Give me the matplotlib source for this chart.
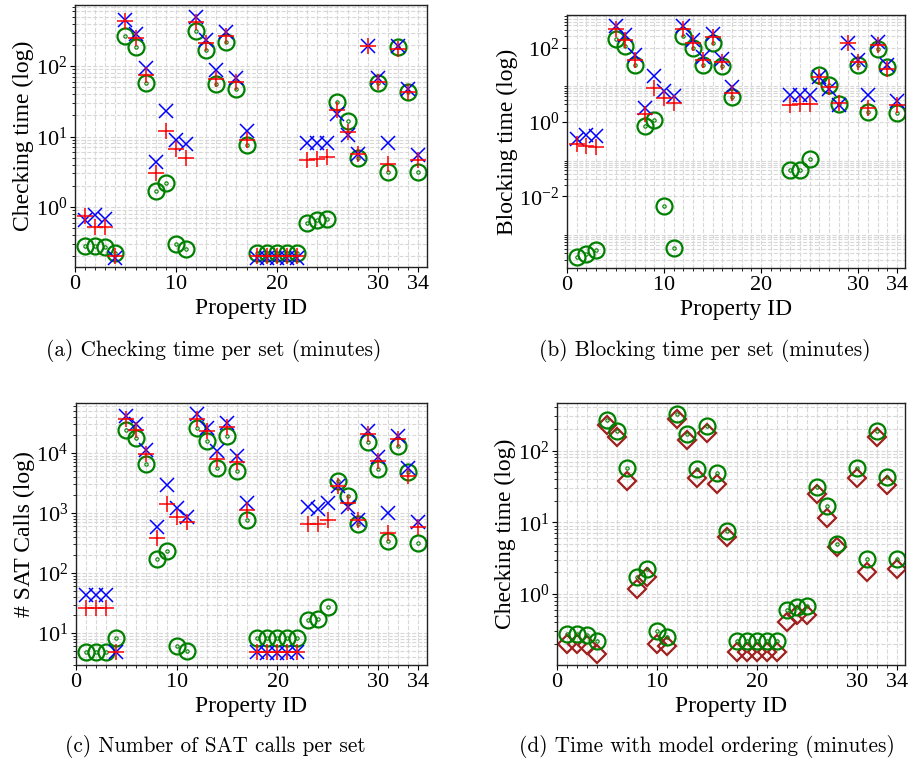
import numpy as np
import matplotlib
matplotlib.use("Agg")
import matplotlib.pyplot as plt
from matplotlib.ticker import FixedLocator, MultipleLocator

plt.rcParams['font.family'] = 'serif'
plt.rcParams['font.serif'] = ['Liberation Serif']
plt.rcParams['mathtext.fontset'] = 'stix'
plt.rcParams['axes.formatter.use_mathtext'] = True

nan = np.nan
ids = np.arange(1, 35)

# (a) checking time per set (minutes)
check_x = [0.65, 0.76, 0.68, 0.19, 450, 290, 93, 4.3, 23, 9.0, 7.8, 500, 235, 88, 310, 69, 12,
           0.19, 0.19, 0.19, 0.19, 0.19, 8.1, 8.1, 8.1, 21, 10.4, 5.6, 192, 69, 8.1, 192, 48, 5.4]
check_p = [0.74, 0.52, 0.51, 0.2, 440, 250, 74, 3.0, 12, 6.7, 5.0, 430, 215, 66, 270, 60, 8.9,
           0.2, 0.2, 0.2, 0.2, 0.2, 4.6, 4.8, 5.1, 24, 11.7, 5.6, 192, 60, 4.1, 178, 43, 4.7]
check_o = [0.28, 0.28, 0.27, 0.22, 270, 185, 57, 1.7, 2.2, 0.30, 0.25, 320, 170, 55, 222, 48, 7.5,
           0.22, 0.22, 0.22, 0.22, 0.22, 0.59, 0.66, 0.67, 31, 16.7, 4.9, nan, 58, 3.1, 190, 43, 3.1]

# (b) blocking time per set (minutes)
block_x = [0.35, 0.46, 0.41, nan, 380, 218, 63, 2.4, 17, 6.6, 4.9, 380, 155, 55, 230, 49, 8.7,
           nan, nan, nan, nan, nan, 5.4, 5.4, 5.4, 16, 7.7, 2.9, 135, 47, 5.4, 140, 34, 3.6]
block_p = [0.26, 0.23, 0.21, nan, 310, 155, 45, 1.6, 8.1, 4.4, 3.2, 310, 135, 45, 190, 40, 6.0,
           nan, nan, nan, nan, nan, 2.9, 3.0, 3.0, 16, 8.6, 3.2, 135, 40, 2.4, 117, 26, 2.9]
block_o = [0.00024, 0.00028, 0.00036, nan, 170, 107, 33, 0.8, 1.1, 0.0055, 0.00042, 210, 100, 33,
           135, 31, 4.7, nan, nan, nan, nan, nan, 0.05, 0.053, 0.10, 18.6, 10, 3.1, nan, 33, 1.9,
           92, 30, 1.7]

# (c) number of SAT calls per set
sat_x = [43, 43, 43, 4.9, 42000, 31000, 11300, 590, 2950, 1230, 870, 44000, 26000, 10700, 32000,
         8800, 1450, 4.9, 4.6, 4.6, 4.6, 4.9, 1260, 1190, 1450, 2800, 1260, 760, 23000, 8500, 1000,
         19500, 5700, 710]
sat_p = [26, 26, 26, 4.8, 37000, 24000, 9500, 380, 1400, 850, 700, 37000, 23000, 7800, 27000,
         7000, 1120, 4.8, 4.8, 4.8, 4.8, 4.8, 670, 650, 780, 2800, 1480, 760, 21000, 7400, 470,
         17000, 4100, 575]
sat_o = [4.8, 4.8, 4.8, 8.2, 24000, 18000, 6500, 175, 230, 6.0, 5.0, 26500, 16000, 5700, 19000,
         5100, 780, 8.2, 8.2, 8.2, 8.2, 8.2, 16.6, 17, 27, 3400, 1900, 670, 15500, 5400, 340,
         13000, 4800, 320]

# (d) time with model ordering (minutes)
order_o = check_o
order_d = [0.2, 0.2, 0.195, 0.144, 230, 154, 38, 1.17, 1.7, 0.2, 0.19, 275, 141, 41, 175, 34, 6.2,
           0.157, 0.157, 0.157, 0.157, 0.157, 0.41, 0.51, 0.51, 25, 11.6, 4.5, nan, 42, 2.0, 154,
           33, 2.24]

BLUE = '#0000ff'
RED = '#ff0000'
GREEN = '#008000'
BROWN = '#a02020'


def circles(ax, y):
    ax.plot(ids, y, 'o', ms=11.5, mfc='none', mec=GREEN, mew=1.6, ls='none')
    ax.plot(ids, y, 'o', ms=2.4, mfc='none', mec=GREEN, mew=0.8, ls='none')


def setup(ax, ylabel, ylim):
    ax.set_yscale('log')
    ax.set_xlim(0, 34.85)
    ax.set_ylim(*ylim)
    ax.set_xticks([0, 10, 20, 30, 34])
    ax.xaxis.set_minor_locator(MultipleLocator(1))
    ax.grid(True, which='both', ls='--', color='#d8d8d8', lw=0.8)
    ax.set_axisbelow(True)
    ax.tick_params(labelsize=16, direction='out', pad=2)
    ax.tick_params(which='minor', length=2.5)
    ax.set_xlabel('Property ID', fontsize=17, labelpad=3)
    ax.set_ylabel(ylabel, fontsize=17, labelpad=1)
    for s in ax.spines.values():
        s.set_linewidth(1.0)
        s.set_color('#222222')


fig = plt.figure(figsize=(9.09, 7.6), dpi=100)

ax1 = fig.add_axes([0.0825, 0.6487, 0.387, 0.3447])
circles(ax1, check_o)
ax1.plot(ids, check_x, 'x', ms=10.5, color=BLUE, mew=1.1, ls='none')
ax1.plot(ids, check_p, '+', ms=12, color=RED, mew=1.1, ls='none')
setup(ax1, 'Checking time (log)', (0.14, 740))

ax2 = fig.add_axes([0.6238, 0.6474, 0.372, 0.3329])
circles(ax2, block_o)
ax2.plot(ids, block_x, 'x', ms=10.5, color=BLUE, mew=1.1, ls='none')
ax2.plot(ids, block_p, '+', ms=12, color=RED, mew=1.1, ls='none')
setup(ax2, 'Blocking time (log)', (1.2e-4, 750))
ax2.yaxis.set_major_locator(FixedLocator([1e-2, 1, 1e2]))
ax2.yaxis.set_minor_locator(FixedLocator([s * 10.0 ** e for e in (-4, -2, 0, 2) for s in range(2, 10)]))

ax3 = fig.add_axes([0.0836, 0.125, 0.386, 0.3447])
circles(ax3, sat_o)
ax3.plot(ids, sat_x, 'x', ms=10.5, color=BLUE, mew=1.1, ls='none')
ax3.plot(ids, sat_p, '+', ms=12, color=RED, mew=1.1, ls='none')
setup(ax3, '# SAT Calls (log)', (2.95, 68000))

ax4 = fig.add_axes([0.6128, 0.125, 0.383, 0.3447])
ax4.plot(ids, order_d, 'D', ms=9, mfc='none', mec=BROWN, mew=1.6, ls='none')
circles(ax4, order_o)
setup(ax4, 'Checking time (log)', (0.102, 460))

caps = ['(a) Checking time per set (minutes)', '(b) Blocking time per set (minutes)',
        '(c) Number of SAT calls per set', '(d) Time with model ordering (minutes)']
pos = [(214, 350), (705, 350), (215, 746), (707, 746)]
for c, (px, py) in zip(caps, pos):
    fig.text(px / 909, 1 - py / 760, c, ha='center', va='center', fontsize=15.3, family='cmr10')

fig.savefig('out.png', dpi=100)
